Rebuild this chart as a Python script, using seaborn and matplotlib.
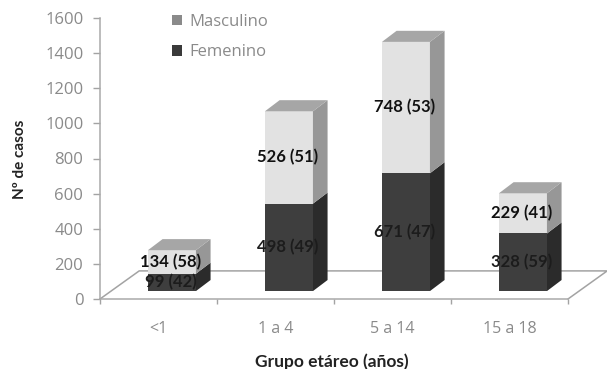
import matplotlib
matplotlib.use("Agg")
import matplotlib.pyplot as plt
from matplotlib.patches import Polygon, Patch
from matplotlib.lines import Line2D
import numpy as np
import pandas as pd
import seaborn as sns

# Cases per age group, split by sex, with row percentages
grupos = ["<1", "1 a 4", "5 a 14", "15 a 18"]
femenino = [99, 498, 671, 328]
masculino = [134, 526, 748, 229]
pct_femenino = [42, 49, 47, 59]
pct_masculino = [58, 51, 53, 41]
yticks = [0, 200, 400, 600, 800, 1000, 1200, 1400, 1600]

# Pseudo-3D layout, in axis units (categories on x, cases on y)
BAR_W = 0.41
DEPTH_X, DEPTH_Y = 0.125, 63
FLOOR_X, FLOOR_Y = 0.335, 160
BASE = 45
SHIFT = 0.115

C_FEM, C_FEM_SIDE = "#3e3e3e", "#2b2b2b"
C_MAS, C_MAS_SIDE, C_MAS_TOP = "#e2e2e2", "#979797", "#a6a6a6"
C_TEXT = "#8a8a8a"

sns.set_theme(style="white")
plt.rcParams["font.family"] = ["Lato", "DejaVu Sans"]

fig = plt.figure(figsize=(6.07, 3.69), dpi=100)
ax = fig.add_axes([100 / 607, 70 / 369, 468 / 607, 281 / 369])

pos = np.arange(len(grupos)) + SHIFT
fem = np.array(femenino, dtype=float)
mas = np.array(masculino, dtype=float)
total = fem + mas
df = pd.DataFrame({"pos": pos, "fem": fem, "total": total})

# Floor of the chart box
ax.add_line(Line2D([-0.5, -0.5 + FLOOR_X, 3.5 + FLOOR_X, 3.5],
                   [0, FLOOR_Y, FLOOR_Y, 0], color="#a3a3a3", lw=1.1,
                   clip_on=False, zorder=1))

# Stacked front faces: total behind, women in front
sns.barplot(df, x="pos", y="total", native_scale=True, width=BAR_W, ax=ax,
            color=C_MAS, saturation=1, bottom=BASE, linewidth=0, zorder=3)
sns.barplot(df, x="pos", y="fem", native_scale=True, width=BAR_W, ax=ax,
            color=C_FEM, saturation=1, bottom=BASE, linewidth=0, zorder=4)

# Side and top faces of every bar
half = BAR_W / 2
for p, f, t in zip(pos, fem, total):
    xr = p + half
    xl = p - half
    y0, y1, y2 = BASE, BASE + f, BASE + t
    ax.add_patch(Polygon([(xr, y0), (xr + DEPTH_X, y0 + DEPTH_Y),
                          (xr + DEPTH_X, y1 + DEPTH_Y), (xr, y1)],
                         fc=C_FEM_SIDE, ec="none", zorder=3, clip_on=False))
    ax.add_patch(Polygon([(xr, y1), (xr + DEPTH_X, y1 + DEPTH_Y),
                          (xr + DEPTH_X, y2 + DEPTH_Y), (xr, y2)],
                         fc=C_MAS_SIDE, ec="none", zorder=3, clip_on=False))
    ax.add_patch(Polygon([(xl, y2), (xl + DEPTH_X, y2 + DEPTH_Y),
                          (xr + DEPTH_X, y2 + DEPTH_Y), (xr, y2)],
                         fc=C_MAS_TOP, ec="none", zorder=3, clip_on=False))

# Value labels centred on each front face
for p, f, t, m, pf, pm in zip(pos, fem, total, mas, pct_femenino, pct_masculino):
    ax.text(p - 0.01, BASE + f / 2, f"{int(f)} ({pf})", ha="center", va="center",
            fontsize=12, fontweight="bold", color="#1c1c1c", zorder=6)
    ax.text(p - 0.01, BASE + f + m / 2, f"{int(m)} ({pm})", ha="center", va="center",
            fontsize=12, fontweight="bold", color="#111111", zorder=6)

# Axes
ax.set_xlim(-0.5, 3.5)
ax.set_ylim(0, 1600)
ax.set_yticks(yticks)
ax.set_xticks(np.arange(-0.5, 4, 1))
ax.set_xticklabels([])
ax.set_xticks(np.arange(len(grupos)), labels=grupos, minor=True)
ax.tick_params(axis="x", which="major", length=3.5, width=1, color="#a3a3a3",
               direction="out", bottom=True)
ax.tick_params(axis="x", which="minor", length=0, pad=16, labelsize=11.5,
               labelcolor=C_TEXT)
ax.tick_params(axis="y", length=5, width=1, color="#a3a3a3", direction="out",
               left=True, pad=7, labelsize=12, labelcolor=C_TEXT)
for lab in ax.get_xticklabels(minor=True) + ax.get_yticklabels():
    lab.set_fontfamily(["Open Sans", "DejaVu Sans"])
sns.despine(ax=ax)
for side in ("left", "bottom"):
    ax.spines[side].set_color("#a9a9a9")
    ax.spines[side].set_linewidth(1.1)

fig.text(332 / 607, 1 - 362 / 369, "Grupo etáreo (años)", ha="center", va="center",
         fontsize=12.5, fontweight="bold", color="#222222")
fig.text(20 / 607, 1 - 159 / 369, "Nº de casos", ha="center", va="center",
         rotation=90, fontsize=11, fontweight="bold", color="#222222")

handles = [Patch(fc="#8a8a8a", ec="none"), Patch(fc="#3a3a3a", ec="none")]
ax.legend(handles, ["Masculino", "Femenino"], loc="upper left",
          bbox_to_anchor=(72 / 468, 1.015), frameon=False,
          labelcolor=C_TEXT, handlelength=0.6, handleheight=0.6,
          handletextpad=0.45, labelspacing=0.88, borderpad=0, borderaxespad=0,
          prop={"family": ["Open Sans", "DejaVu Sans"], "size": 12})

ax.set_xlabel("")
ax.set_ylabel("")
fig.savefig("out.png", dpi=100, facecolor="white")
